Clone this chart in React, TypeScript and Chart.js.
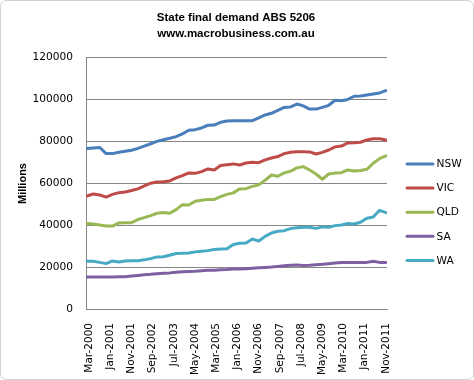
import React, { useEffect, useRef } from 'react';
import { Chart, registerables } from 'chart.js';

Chart.register(...registerables);

const TITLE = ['State final demand ABS 5206', 'www.macrobusiness.com.au'];
const Y_TITLE = 'Millions';

const QUARTERS = [
  'Mar-2000', 'Jun-2000', 'Sep-2000', 'Dec-2000',
  'Mar-2001', 'Jun-2001', 'Sep-2001', 'Dec-2001',
  'Mar-2002', 'Jun-2002', 'Sep-2002', 'Dec-2002',
  'Mar-2003', 'Jun-2003', 'Sep-2003', 'Dec-2003',
  'Mar-2004', 'Jun-2004', 'Sep-2004', 'Dec-2004',
  'Mar-2005', 'Jun-2005', 'Sep-2005', 'Dec-2005',
  'Mar-2006', 'Jun-2006', 'Sep-2006', 'Dec-2006',
  'Mar-2007', 'Jun-2007', 'Sep-2007', 'Dec-2007',
  'Mar-2008', 'Jun-2008', 'Sep-2008', 'Dec-2008',
  'Mar-2009', 'Jun-2009', 'Sep-2009', 'Dec-2009',
  'Mar-2010', 'Jun-2010', 'Sep-2010', 'Dec-2010',
  'Mar-2011', 'Jun-2011', 'Sep-2011', 'Dec-2011',
];

const TICK_LABELS = [
  'Mar-2000', 'Jan-2001', 'Nov-2001', 'Sep-2002', 'Jul-2003', 'May-2004', 'Mar-2005', 'Jan-2006',
  'Nov-2006', 'Sep-2007', 'Jul-2008', 'May-2009', 'Mar-2010', 'Jan-2011', 'Nov-2011',
];

const Y_TICKS = [0, 20000, 40000, 60000, 80000, 100000, 120000];

const NSW = [
  76400, 76700, 76900, 74000, 74000, 74600, 75100, 75600, 76500, 77600,
  78700, 79800, 80600, 81300, 82100, 83400, 85100, 85400, 86200, 87500,
  87600, 88900, 89500, 89700, 89700, 89700, 89700, 91000, 92400, 93200,
  94600, 96000, 96200, 97600, 96700, 95200, 95200, 96000, 97000, 99400,
  99200, 99800, 101300, 101400, 101900, 102400, 102900, 104000,
];
const VIC = [
  53800, 54800, 54300, 53300, 54600, 55400, 55700, 56400, 57200, 58600,
  59900, 60500, 60600, 61000, 62400, 63500, 64800, 64600, 65400, 66700,
  66200, 68300, 68700, 69100, 68600, 69500, 69900, 69700, 71000, 71900,
  72600, 74000, 74600, 74900, 74900, 74800, 73800, 74600, 75700, 77200,
  77600, 79100, 79200, 79400, 80500, 81100, 81100, 80500,
];
const QLD = [
  40700, 40500, 40000, 39500, 39500, 41000, 41100, 41100, 42600, 43500,
  44500, 45600, 46000, 45600, 47300, 49700, 49500, 51300, 51800, 52200,
  52200, 53500, 54600, 55300, 57200, 57300, 58400, 59100, 61300, 63800,
  63200, 64800, 65600, 67200, 67800, 66200, 64300, 61800, 64300, 64800,
  64900, 66200, 65700, 66000, 66500, 69400, 71600, 72900,
];
const SA = [
  15200, 15200, 15200, 15200, 15200, 15300, 15400, 15700, 16000, 16300,
  16500, 16800, 17000, 17200, 17500, 17700, 17900, 18000, 18200, 18400,
  18500, 18700, 18800, 19000, 19100, 19200, 19400, 19600, 19800, 20000,
  20300, 20600, 20800, 21000, 20700, 20800, 21100, 21300, 21600, 21900,
  22100, 22200, 22200, 22200, 22200, 22700, 22200, 22200,
];
const WA = [
  22700, 22700, 22200, 21600, 22900, 22400, 22900, 23000, 23000, 23400,
  24000, 24800, 24900, 25600, 26400, 26500, 26700, 27200, 27500, 27800,
  28300, 28600, 28700, 30700, 31300, 31400, 33300, 32400, 34600, 36200,
  37000, 37300, 38300, 38700, 38900, 38900, 38400, 39100, 38900, 39700,
  40000, 40700, 40500, 41300, 43200, 43800, 47000, 45900,
];

const SERIES_NAMES = ['NSW', 'VIC', 'QLD', 'SA', 'WA'];
const SERIES_VALUES = [NSW, VIC, QLD, SA, WA];
const COLORS = ['#4A7EBB', '#BE4B48', '#98B954', '#7D60A0', '#46AAC5'];

const MONTHS = ['Jan', 'Feb', 'Mar', 'Apr', 'May', 'Jun', 'Jul', 'Aug', 'Sep', 'Oct', 'Nov', 'Dec'];
function monthIndex(label: string): number {
  const [m, y] = label.split('-');
  return (Number(y) - 2000) * 12 + MONTHS.indexOf(m) - 2;
}

const TICK_FONT = 'DejaVu Sans';
const BOLD_FONT = 'Liberation Sans';

const decorPlugin = {
  id: 'decor',
  afterDraw(chart: any) {
    const ctx = chart.ctx as CanvasRenderingContext2D;
    ctx.save();
    // outer rounded border
    ctx.strokeStyle = '#d0d0d0';
    ctx.lineWidth = 1;
    ctx.beginPath();
    const r = 6;
    const x0 = 0.5, y0 = 0.5, x1 = 473.5, y1 = 379.5;
    ctx.moveTo(x0 + r, y0);
    ctx.lineTo(x1 - r, y0);
    ctx.arcTo(x1, y0, x1, y0 + r, r);
    ctx.lineTo(x1, y1 - r);
    ctx.arcTo(x1, y1, x1 - r, y1, r);
    ctx.lineTo(x0 + r, y1);
    ctx.arcTo(x0, y1, x0, y1 - r, r);
    ctx.lineTo(x0, y0 + r);
    ctx.arcTo(x0, y0, x0 + r, y0, r);
    ctx.stroke();

    // title
    ctx.fillStyle = '#000';
    ctx.font = `bold 11.5px "${BOLD_FONT}"`;
    ctx.textAlign = 'center';
    ctx.textBaseline = 'alphabetic';
    ctx.fillText(TITLE[0], 236, 20.7);
    ctx.fillText(TITLE[1], 236, 36.7);

    // y title
    ctx.save();
    ctx.translate(22.5, 183.5);
    ctx.rotate(-Math.PI / 2);
    ctx.font = `bold 11px "${BOLD_FONT}"`;
    ctx.textBaseline = 'middle';
    ctx.textAlign = 'center';
    ctx.fillText(Y_TITLE, 0, 0);
    ctx.restore();

    // legend
    ctx.font = `10.6px "${TICK_FONT}"`;
    ctx.textAlign = 'left';
    ctx.textBaseline = 'middle';
    chart.data.datasets.forEach((ds: any, i: number) => {
      const y = 164 + i * 24.1;
      ctx.strokeStyle = ds.borderColor;
      ctx.lineWidth = 3;
      ctx.lineCap = 'round';
      ctx.beginPath();
      ctx.moveTo(407, y);
      ctx.lineTo(433, y);
      ctx.stroke();
      ctx.fillStyle = '#000';
      ctx.fillText(ds.label, 436.5, y + 0.5);
    });
    ctx.restore();
  },
};

export default function App() {
  const canvasRef = useRef<HTMLCanvasElement | null>(null);

  useEffect(() => {
    if (!canvasRef.current) return;
    const datasets = SERIES_NAMES.map((name, si) => ({
      label: name,
      data: QUARTERS.map((q, qi) => ({ x: monthIndex(q), y: SERIES_VALUES[si][qi] })),
      borderColor: COLORS[si],
      backgroundColor: COLORS[si],
      borderWidth: 3,
      pointRadius: 0,
      pointHoverRadius: 0,
      tension: 0,
      borderJoinStyle: 'round' as const,
      borderCapStyle: 'round' as const,
      fill: false,
    }));

    const chart = new Chart(canvasRef.current, {
      type: 'line',
      data: { datasets },
      plugins: [decorPlugin],
      options: {
        animation: false,
        responsive: false,
        devicePixelRatio: 1,
        layout: { padding: { top: 57, right: 87, bottom: 0, left: 0 } },
        plugins: {
          legend: { display: false },
          title: { display: false },
          tooltip: { enabled: false },
        },
        scales: {
          x: {
            type: 'linear',
            min: -0.5,
            max: 141.5,
            afterFit: (scale: any) => { scale.height = 71; },
            afterBuildTicks: (scale: any) => {
              scale.ticks = TICK_LABELS.map((l) => ({ value: monthIndex(l) }));
            },
            grid: { display: false, drawTicks: false },
            border: { display: true, color: '#868686', width: 1 },
            ticks: {
              autoSkip: false,
              minRotation: 90,
              maxRotation: 90,
              padding: 14,
              labelOffset: 2,
              color: '#000',
              font: { family: TICK_FONT, size: 10.5 },
              callback: (_v: any, i: number) => TICK_LABELS[i],
            },
          },
          y: {
            type: 'linear',
            min: Y_TICKS[0],
            max: Y_TICKS[Y_TICKS.length - 1],
            afterFit: (scale: any) => { scale.width = 86; },
            afterBuildTicks: (scale: any) => {
              scale.ticks = Y_TICKS.map((v) => ({ value: v }));
            },
            grid: { color: '#868686', lineWidth: 1, drawTicks: false },
            border: { display: true, color: '#868686', width: 1 },
            ticks: {
              padding: 13,
              color: '#000',
              font: { family: TICK_FONT, size: 10.6 },
              callback: (v: any) => String(v),
            },
          },
        },
      },
    });
    return () => chart.destroy();
  }, []);

  return (
    <div style={{ position: 'fixed', left: 0, top: 0, width: 474, height: 380, background: '#fff' }}>
      <canvas ref={canvasRef} width={474} height={380} style={{ display: 'block', width: 474, height: 380 }} />
    </div>
  );
}
